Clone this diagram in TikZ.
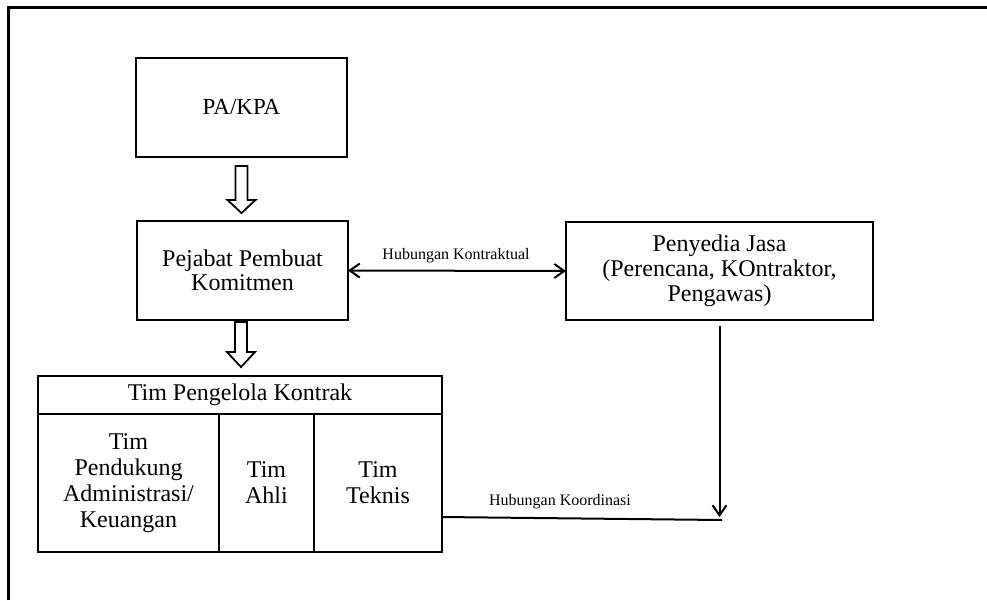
\documentclass[tikz,border=0pt]{standalone}
\usepackage{fontspec}
\setmainfont{Liberation Serif}
\usetikzlibrary{arrows.meta,calc}
\begin{document}
\begin{tikzpicture}[x=1pt,y=-1pt,
  box/.style={draw, line width=2.4pt, inner sep=0pt, outer sep=0pt, align=center,
    font=\fontsize{24}{25}\selectfont},
  lbl/.style={inner sep=0pt, font=\fontsize{16}{18}\selectfont},
  conn/.style={line width=2pt},
  barb/.tip={Straight Barb[length=10pt,width=14pt,line width=2pt]},
  hollow/.style={draw, line width=1.8pt, fill=white, line join=miter}
]
\useasboundingbox (0,0) rectangle (987,600);
\draw[line width=3pt] (8,600) -- (8,7) -- (987,7);

\node[box, minimum width=211pt, minimum height=99pt, font=\fontsize{23}{24}\selectfont] (pa) at (241.5,107.5) {PA/KPA};
\node[box, minimum width=211pt, minimum height=99pt, font=\fontsize{24}{24}\selectfont] (ppk) at (242.5,270.5) {Pejabat Pembuat\\Komitmen};
\node[box, minimum width=307pt, minimum height=98pt] (pj) at (719.5,271) {Penyedia Jasa\\(Perencana, KOntraktor,\\Pengawas)};

\node[box, minimum width=404pt, minimum height=38pt] (tpk) at (240,395) {Tim Pengelola Kontrak};
\node[box, minimum width=181pt, minimum height=138pt, anchor=north west, font=\fontsize{24}{26}\selectfont] (adm) at (tpk.south west) {Tim\\Pendukung\\Administrasi/\\Keuangan};
\node[box, minimum width=95pt, minimum height=138pt, anchor=north west, font=\fontsize{24}{26}\selectfont] (ahli) at (adm.north east) {Tim\\Ahli};
\node[box, minimum width=128pt, minimum height=138pt, anchor=north west, font=\fontsize{24}{26}\selectfont] (tek) at (ahli.north east) {Tim\\Teknis};

% hollow arrows
\draw[hollow] ($(pa.south)+(-6,9)$) -- ++(12,0) -- ++(0,34) -- ++(8,0) -- ++(-14,13) -- ++(-14,-13) -- ++(8,0) -- cycle;
\draw[hollow] ($(ppk.south)+(-7.5,2)$) -- ++(12,0) -- ++(0,30) -- ++(8,0) -- ++(-14,15) -- ++(-14,-15) -- ++(8,0) -- cycle;

% contractual relation
\draw[conn, barb-barb] (ppk.east) -- (pj.west);
\node[lbl] (kl) at (456,256) {Hubungan Kontraktual};

% coordination relation
\coordinate (vt) at (719.5,517);
\coordinate (kd) at (722,520);
\draw[conn, -barb] ($(pj.south)+(0,6)$) -- (vt);
\draw[conn] (tek.east |- vt) -- (kd);
\node[lbl] (ko) at (560,502) {Hubungan Koordinasi};
\end{tikzpicture}
\end{document}
